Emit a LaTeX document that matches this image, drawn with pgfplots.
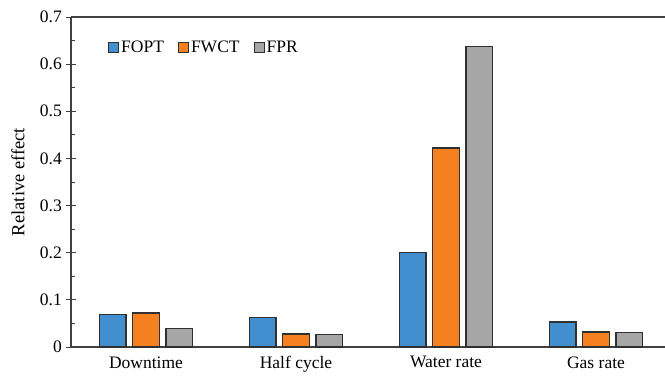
\documentclass[border=0pt]{standalone}
\usepackage{fontspec}
\setmainfont{Liberation Serif}
\usepackage{pgfplots}
\pgfplotsset{compat=1.18}

\definecolor{cFOPT}{RGB}{65,143,206}
\definecolor{cFWCT}{RGB}{245,128,32}
\definecolor{cFPR}{RGB}{166,166,166}
\definecolor{cEdge}{RGB}{48,48,48}
\definecolor{cAxis}{RGB}{64,64,64}

\begin{document}
\begin{tikzpicture}
\begin{axis}[
  scale only axis,
  width=600pt, height=330pt,
  xmin=-0.5, xmax=3.5,
  ymin=0, ymax=0.7,
  axis x line=box, axis y line=left,
  axis line style={-, cAxis, line width=1.3pt},
  ybar=6.6pt,
  bar width=26.7pt,
  xtick={0,1,2,3},
  xticklabels={Downtime, Half cycle, Water rate, Gas rate},
  xtick style={draw=none},
  ytick={0,0.1,0.2,0.3,0.4,0.5,0.6,0.7},
  yticklabels={0,0.1,0.2,0.3,0.4,0.5,0.6,0.7},
  minor y tick num=1,
  tick align=inside,
  major tick length=10pt,
  minor tick length=4.5pt,
  every major y tick/.append style={xshift=-5pt},
  tick style={cAxis, line width=1pt},
  ticklabel style={font=\fontsize{17.5}{20}\selectfont},
  xticklabel style={yshift=-6pt},
  yticklabel style={inner xsep=0pt, xshift=-9pt},
  ylabel={Relative effect},
  ylabel style={at={(axis description cs:-0.0883,0.5)}, anchor=center,
                font=\fontsize{18.5}{22}\selectfont},
  legend columns=3,
  legend style={draw=none, fill=none, inner sep=0pt,
                at={(rel axis cs:0.0617,0.909)}, anchor=west,
                font=\fontsize{17.5}{20}\selectfont,
                /tikz/every even column/.append style={column sep=12pt}},
  legend image code/.code={\draw[#1, line width=1pt] (0pt,-5pt) rectangle (10pt,5pt);},
]
\addplot[draw=cEdge, line width=1.2pt, fill=cFOPT] coordinates {(0,0.069) (1,0.063) (2,0.201) (3,0.053)};
\addplot[draw=cEdge, line width=1.2pt, fill=cFWCT] coordinates {(0,0.072) (1,0.0276) (2,0.422) (3,0.032)};
\addplot[draw=cEdge, line width=1.2pt, fill=cFPR]  coordinates {(0,0.040) (1,0.026) (2,0.637) (3,0.030)};
\legend{FOPT, FWCT, FPR}
\end{axis}
\pgfresetboundingbox
\useasboundingbox (-71pt,-31pt) rectangle (594pt,347pt);
\end{tikzpicture}
\end{document}
